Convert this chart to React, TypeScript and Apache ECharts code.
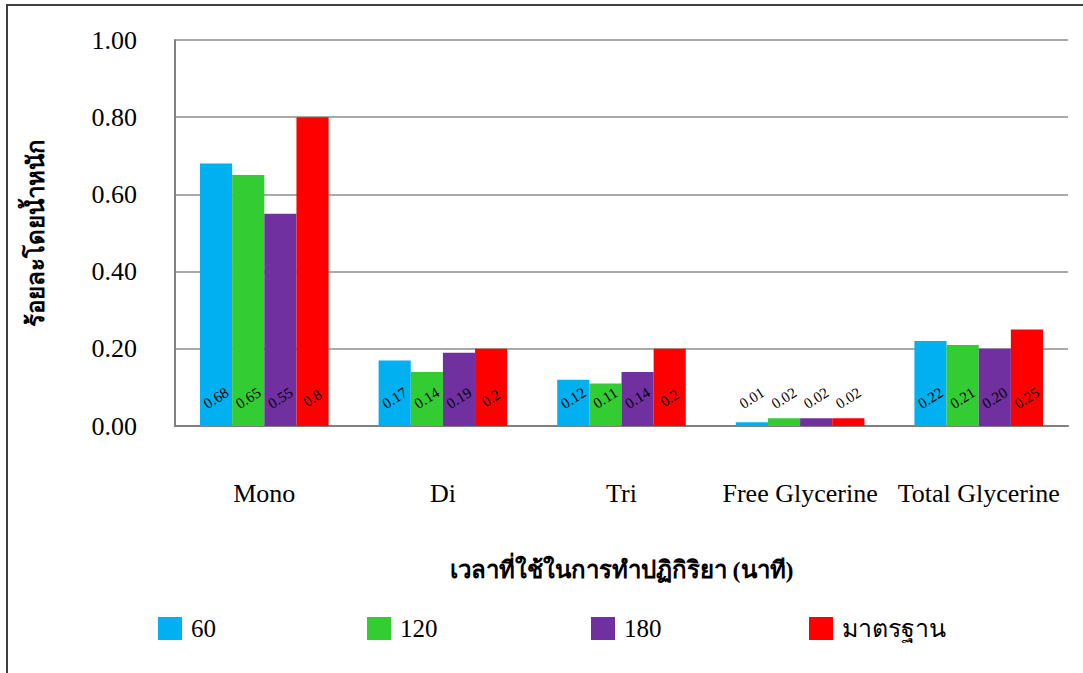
import React, { useEffect, useRef } from "react";
import * as echarts from "echarts";

const categories = ["Mono", "Di", "Tri", "Free Glycerine", "Total Glycerine"];
const seriesNames = ["60", "120", "180", "มาตรฐาน"];
const seriesColors = ["#00B0F0", "#33CC33", "#7030A0", "#FF0000"];
const values60 = [0.68, 0.17, 0.12, 0.01, 0.22];
const values120 = [0.65, 0.14, 0.11, 0.02, 0.21];
const values180 = [0.55, 0.19, 0.14, 0.02, 0.2];
const valuesStd = [0.8, 0.2, 0.2, 0.02, 0.25];
// Label texts as printed on the bars
const labels60 = ["0.68", "0.17", "0.12", "0.01", "0.22"];
const labels120 = ["0.65", "0.14", "0.11", "0.02", "0.21"];
const labels180 = ["0.55", "0.19", "0.14", "0.02", "0.20"];
const labelsStd = ["0.8", "0.2", "0.2", "0.02", "0.25"];
const yAxisTitle = "ร้อยละโดยน้ำหนัก";
const xAxisTitle = "เวลาที่ใช้ในการทำปฏิกิริยา (นาที)";

const SERIF = "Liberation Serif, serif";

export default function App() {
  const ref = useRef<HTMLDivElement>(null);

  useEffect(() => {
    if (!ref.current) return;
    const chart = echarts.init(ref.current, null, { renderer: "svg" });
    const allValues = [values60, values120, values180, valuesStd];
    const allLabels = [labels60, labels120, labels180, labelsStd];
    const legendLefts = [153, 362, 586, 804];

    chart.setOption({
      animation: false,
      backgroundColor: "#ffffff",
      textStyle: { fontFamily: SERIF },
      grid: { left: 175, right: 15, top: 40, bottom: 247 },
      legend: seriesNames.map((n, i) => ({
        data: [n],
        left: legendLefts[i],
        top: 611,
        itemWidth: 24,
        itemHeight: 23,
        icon: "rect",
        itemGap: 10,
        textStyle: { fontFamily: SERIF, fontSize: 25, color: "#000", padding: [0, 0, 0, 4] },
      })),
      xAxis: {
        type: "category",
        data: categories,
        name: xAxisTitle,
        nameLocation: "middle",
        nameGap: 132,
        nameTextStyle: { fontFamily: SERIF, fontSize: 24, fontWeight: "bold", color: "#000" },
        axisLine: { lineStyle: { color: "#808080", width: 2 } },
        axisTick: { show: false },
        axisLabel: {
          fontFamily: SERIF,
          fontSize: 26,
          color: "#000",
          margin: 54,
          interval: 0,
          hideOverlap: false,
        },
      },
      yAxis: {
        type: "value",
        min: 0,
        max: 1,
        interval: 0.2,
        name: yAxisTitle,
        nameLocation: "middle",
        nameGap: 127,
        nameTextStyle: { fontFamily: SERIF, fontSize: 24, fontWeight: "bold", color: "#000" },
        axisLine: { show: true, lineStyle: { color: "#808080", width: 2 } },
        axisTick: { show: false },
        splitLine: { lineStyle: { color: "#8c8c8c", width: 1.5 } },
        axisLabel: {
          fontFamily: SERIF,
          fontSize: 26,
          color: "#000",
          margin: 38,
          formatter: (v: number) => v.toFixed(2),
        },
      },
      series: seriesNames.map((n, i) => ({
        name: n,
        type: "bar",
        data: allValues[i],
        barGap: "0%",
        barCategoryGap: "28%",
        itemStyle: { color: seriesColors[i] },
        label: {
          show: true,
          position: "insideBottom",
          distance: 28,
          rotate: 32,
          align: "center",
          verticalAlign: "middle",
          fontFamily: SERIF,
          fontSize: 15,
          color: "#000",
          formatter: (p: any) => allLabels[i][p.dataIndex],
        },
      })),
      graphic: [
        {
          type: "polyline",
          shape: { points: [[7, 700], [7, 5], [1100, 5]] },
          style: { stroke: "#404040", lineWidth: 2, fill: "none" },
        },
      ],
    });

    return () => chart.dispose();
  }, []);

  return (
    <div
      ref={ref}
      style={{ position: "fixed", left: 0, top: 0, width: 1083, height: 673 }}
    />
  );
}
